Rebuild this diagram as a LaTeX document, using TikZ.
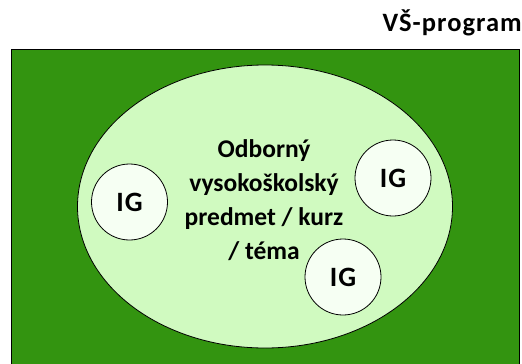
\documentclass[tikz,border=0pt]{standalone}
\usepackage{fontspec}
\usetikzlibrary{shapes.geometric}
\setmainfont{Carlito}
\definecolor{darkgrn}{RGB}{51,148,16}
\definecolor{lightgrn}{RGB}{208,250,192}
\definecolor{igfill}{RGB}{246,255,243}
\tikzset{
  igcirc/.style={circle, draw=black, line width=0.8pt, fill=igfill, minimum size=76pt, inner sep=0pt, font=\fontsize{28}{32}\selectfont\bfseries\addfontfeatures{LetterSpace=4}},
  maintext/.style={align=center, font=\fontsize{25.5}{34}\selectfont\bfseries, text=black}
}
\begin{document}
\begin{tikzpicture}[x=1pt,y=-1pt]
\useasboundingbox (0,0) rectangle (522,364);
\node[anchor=base east, font=\fontsize{26.5}{30}\selectfont\bfseries\addfontfeatures{LetterSpace=4}, inner sep=0pt] (title) at (522,31.5) {VŠ-program};
\draw[fill=darkgrn, line width=0.8pt] (11,49) rectangle (519,380);
\node[ellipse, draw=black, line width=0.8pt, fill=lightgrn, minimum width=375pt, minimum height=283pt, inner sep=0pt] (ell) at (265,206.5) {};
\node[igcirc] (ig1) at (129.5,202) {IG};
\node[igcirc] (ig2) at (393,178) {IG};
\node[igcirc] (ig3) at (343,277) {IG};
\node[maintext, anchor=base, inner sep=0pt] (txt) at (264,259) {Odborný\\vysokoškolský\\predmet / kurz\\/ téma};
\end{tikzpicture}
\end{document}
